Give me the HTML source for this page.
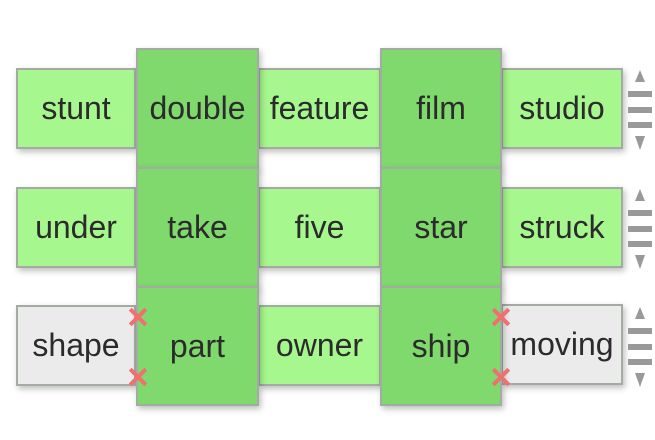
<!DOCTYPE html>
<html><head><style>
html,body{margin:0;padding:0;background:#fff;width:655px;height:440px;overflow:hidden}
.c{position:absolute;box-sizing:border-box;border:2px solid #a3aba3;display:flex;align-items:center;justify-content:center;font:32px "Liberation Sans",Arial,sans-serif;color:#2b2b2b;box-shadow:2px 3px 6px rgba(0,0,0,0.25);white-space:nowrap}
.l{background:#a6f78d}
.d{background:#7fd96c}
.g{background:#ebebeb}
.x{position:absolute;width:22px;height:22px}
.x:before,.x:after{content:"";position:absolute;left:0;top:9px;width:22px;height:4px;background:#f07070;transform:rotate(45deg)}
.x:after{transform:rotate(-45deg)}
.h{position:absolute;left:628px;width:24px}
.h .b{position:absolute;left:0;width:24px;height:6px;background:#999}
.h .u{position:absolute;left:7px;width:0;height:0;border-left:5px solid transparent;border-right:5px solid transparent;border-bottom:12px solid #999}
.h .dn{position:absolute;left:7px;width:0;height:0;border-left:5px solid transparent;border-right:5px solid transparent;border-top:14px solid #999}
</style></head><body>
<div class="c l" style="left:16px;top:68px;width:120px;height:81px">stunt</div>
<div class="c l" style="left:258px;top:68px;width:123px;height:81px">feature</div>
<div class="c l" style="left:501px;top:68px;width:122px;height:81px">studio</div>
<div class="c l" style="left:16px;top:187px;width:120px;height:81px">under</div>
<div class="c l" style="left:258px;top:187px;width:123px;height:81px">five</div>
<div class="c l" style="left:501px;top:187px;width:122px;height:81px">struck</div>
<div class="c g" style="left:16px;top:305px;width:120px;height:81px">shape</div>
<div class="c l" style="left:258px;top:305px;width:123px;height:81px">owner</div>
<div class="c g" style="left:501px;top:304px;width:122px;height:81px">moving</div>

<div class="c d" style="left:136px;top:48px;width:123px;height:121px">double</div>
<div class="c d" style="left:136px;top:167px;width:123px;height:121px">take</div>
<div class="c d" style="left:136px;top:286px;width:123px;height:120px">part</div>
<div class="c d" style="left:380px;top:48px;width:122px;height:121px">film</div>
<div class="c d" style="left:380px;top:167px;width:122px;height:121px">star</div>
<div class="c d" style="left:380px;top:286px;width:122px;height:120px">ship</div>

<div class="x" style="left:127px;top:306px"></div>
<div class="x" style="left:127px;top:366px"></div>
<div class="x" style="left:490px;top:306px"></div>
<div class="x" style="left:490px;top:366px"></div>

<div class="h" style="top:70px"><div class="u" style="top:0"></div><div class="b" style="top:21px"></div><div class="b" style="top:37px"></div><div class="b" style="top:52px"></div><div class="dn" style="top:66px"></div></div>
<div class="h" style="top:189px"><div class="u" style="top:0"></div><div class="b" style="top:21px"></div><div class="b" style="top:37px"></div><div class="b" style="top:52px"></div><div class="dn" style="top:66px"></div></div>
<div class="h" style="top:307px"><div class="u" style="top:0"></div><div class="b" style="top:21px"></div><div class="b" style="top:37px"></div><div class="b" style="top:52px"></div><div class="dn" style="top:66px"></div></div>
</body></html>
